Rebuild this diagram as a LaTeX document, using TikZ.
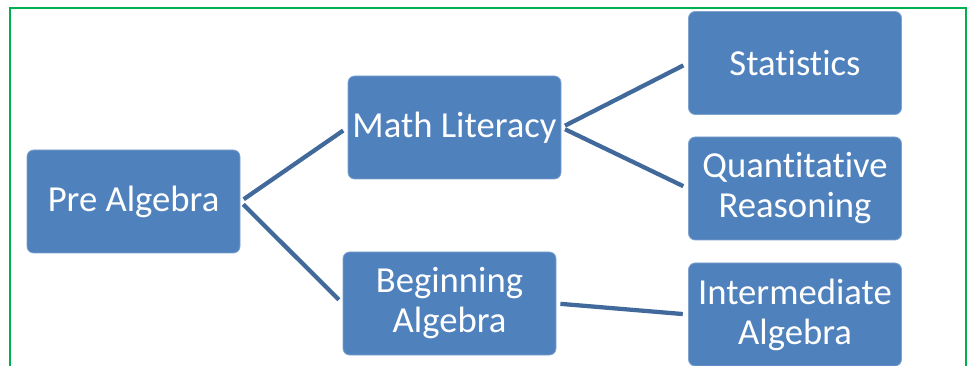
\documentclass[tikz,border=0pt]{standalone}
\usepackage{fontspec}
\setmainfont{Carlito}[Ligatures={NoCommon}]
\definecolor{boxfill}{HTML}{4F81BD}
\definecolor{boxedge}{HTML}{7FA2CF}
\definecolor{connc}{HTML}{41699B}
\definecolor{frameg}{HTML}{00B050}
\begin{document}
\begin{tikzpicture}[x=0.75pt,y=-0.75pt,
  box/.style={rectangle, rounded corners=5pt, fill=boxfill, draw=boxedge, line width=0.6pt,
    minimum width=213*0.75pt, minimum height=103*0.75pt, inner sep=0pt, align=center,
    text=white, font=\fontsize{27.5}{30}\selectfont},
  conn/.style={draw=connc, line width=3.2pt, shorten <=3pt, shorten >=4pt},
  frame/.style={draw=frameg, line width=1.1pt}]
\useasboundingbox (0,0) rectangle (970,366);
\draw[frame] (10,370) -- (10,8) -- (966,8) -- (966,370);
\node[box] (pre) at (133.5,201.5) {Pre Algebra};
\node[box] (ml) at (454.5,127.5) {Math Literacy};
\node[box] (beg) at (449.5,303.5) {Beginning\\Algebra};
\node[box] (stat) at (795,63) {Statistics};
\node[box] (quant) at (795,188.5) {Quantitative\\Reasoning};
\node[box] (inter) at (795,314.5) {Intermediate\\Algebra};
\draw[conn] (pre.east) -- (ml.west);
\draw[conn] (pre.east) -- (beg.west);
\draw[conn] (ml.east) -- (stat.west);
\draw[conn] (ml.east) -- (quant.west);
\draw[conn] (beg.east) -- (inter.west);
\end{tikzpicture}
\end{document}
